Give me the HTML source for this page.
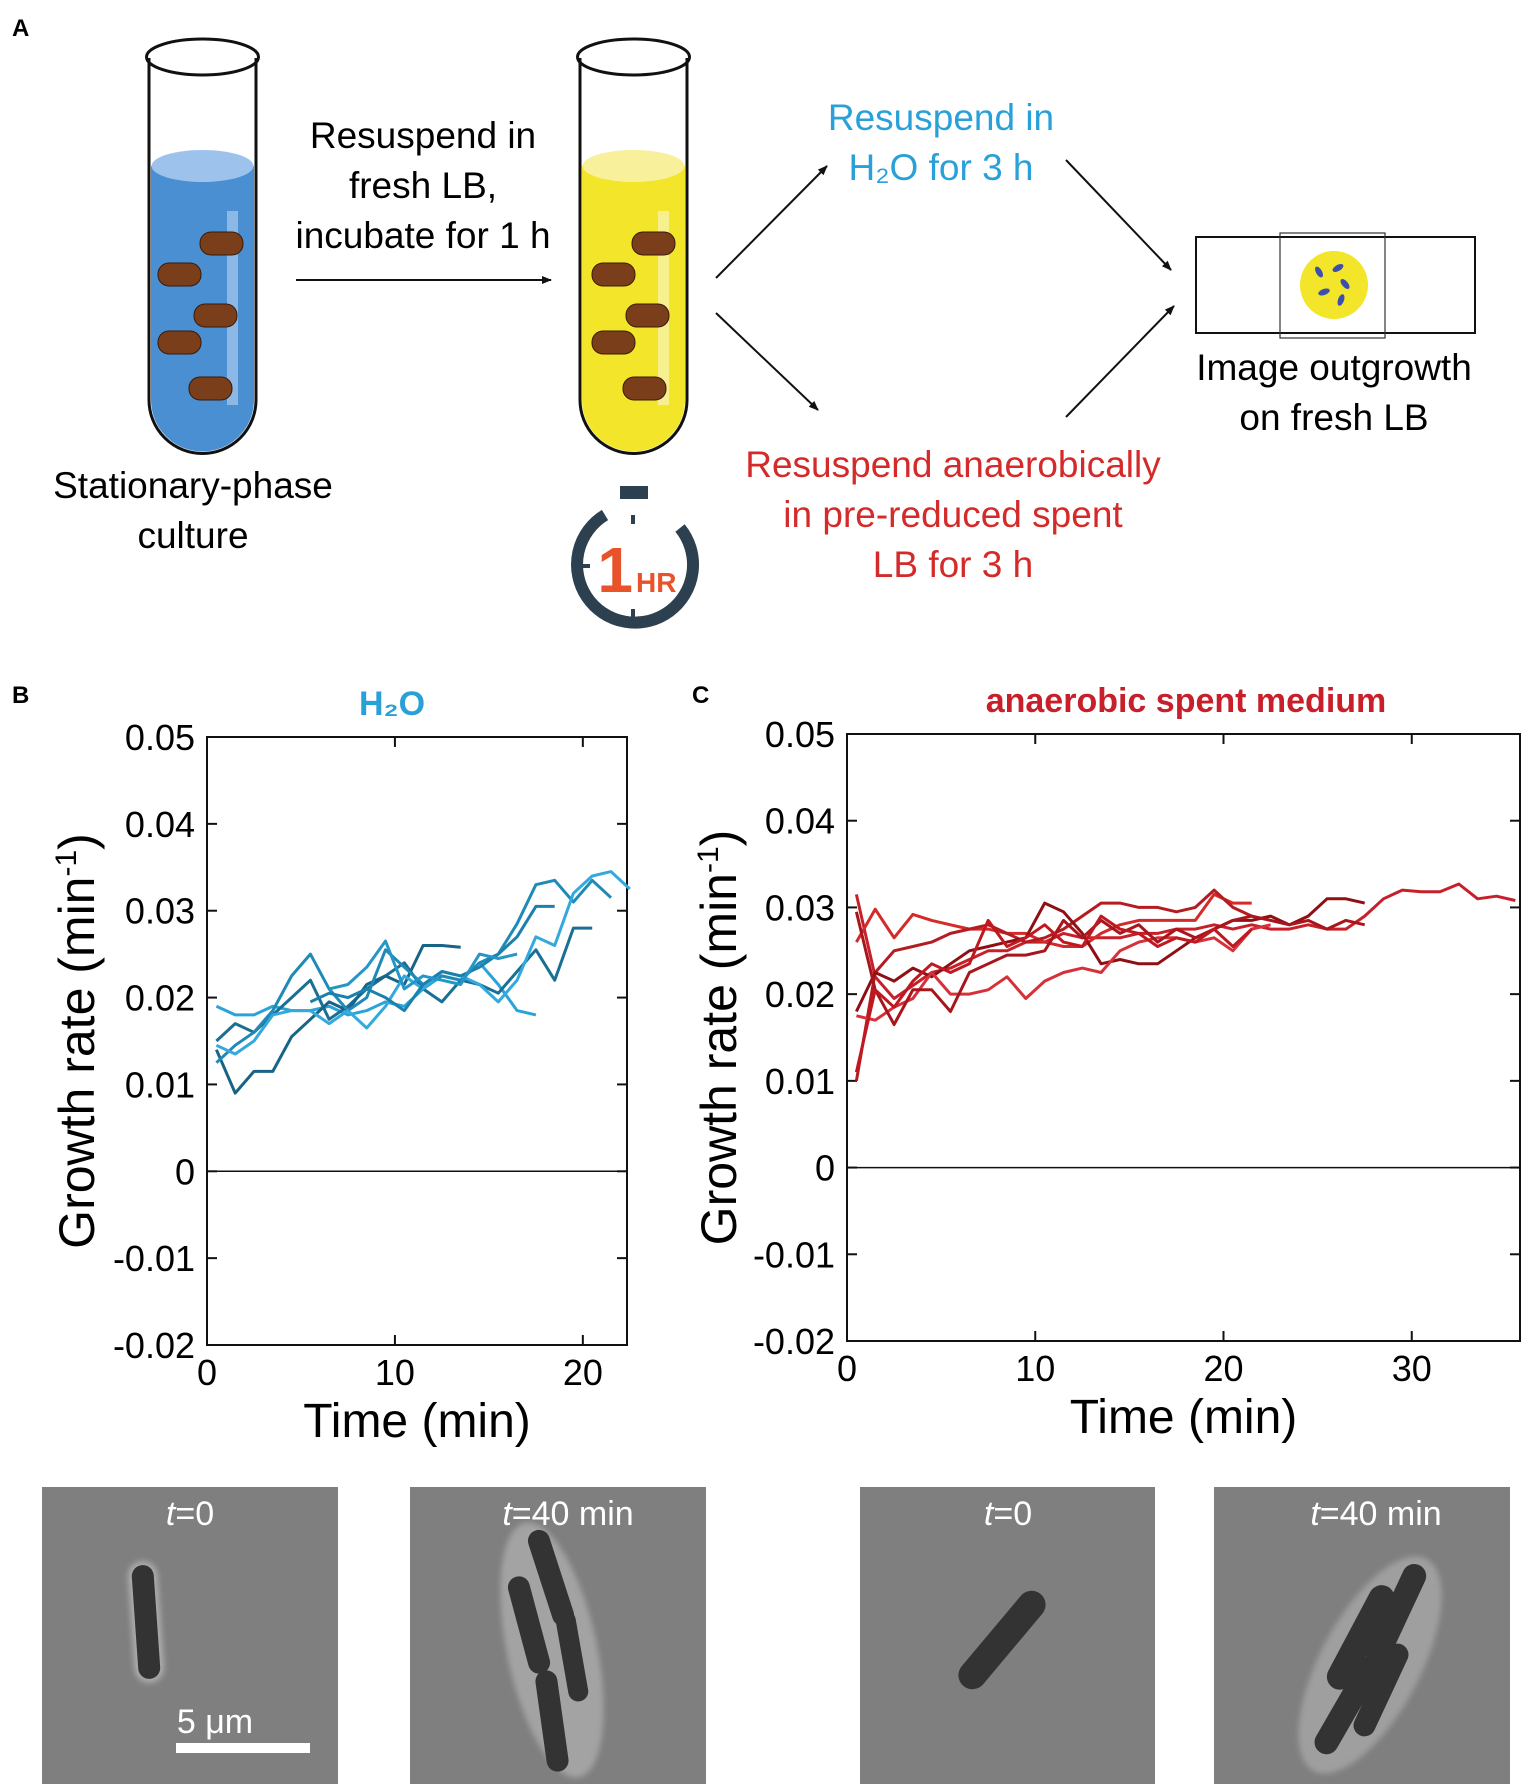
<!DOCTYPE html>
<html><head><meta charset="utf-8">
<style>
html,body{margin:0;padding:0;background:#fff;}
svg{display:block;font-family:"Liberation Sans",sans-serif;}
</style></head>
<body>
<svg id="fig" width="1535" height="1790" viewBox="0 0 1535 1790" xmlns="http://www.w3.org/2000/svg">
<defs>
<marker id="ah" markerWidth="10" markerHeight="10" refX="9" refY="5" orient="auto" markerUnits="userSpaceOnUse"><path d="M0,1 L10,5 L0,9 z" fill="#111"/></marker>
<filter id="blur" x="-50%" y="-50%" width="200%" height="200%"><feGaussianBlur stdDeviation="3"/></filter>
</defs>

<!-- Panel A -->
<text x="12" y="36" font-size="24" font-weight="bold">A</text>

<g>
  <path d="M149,58 L149,400 A53,53 0 0 0 256,400 L256,58" fill="#fff" stroke="#111" stroke-width="3"/>
  <path d="M151,166 L151,400 A51,51 0 0 0 254,400 L254,166 Z" fill="#4a8fd2"/>
  <ellipse cx="202.5" cy="166" rx="51" ry="16" fill="#9dc3ec"/>
  <rect x="227" y="211" width="11" height="194" fill="#a8c9ee" opacity="0.7"/>
  <rect x="200" y="232" width="43" height="23" rx="11" fill="#7a3f1a" stroke="#3a1a08" stroke-width="1"/>
  <rect x="158" y="263" width="43" height="23" rx="11" fill="#7a3f1a" stroke="#3a1a08" stroke-width="1"/>
  <rect x="194" y="304" width="43" height="23" rx="11" fill="#7a3f1a" stroke="#3a1a08" stroke-width="1"/>
  <rect x="158" y="331" width="43" height="23" rx="11" fill="#7a3f1a" stroke="#3a1a08" stroke-width="1"/>
  <rect x="189" y="377" width="43" height="23" rx="11" fill="#7a3f1a" stroke="#3a1a08" stroke-width="1"/>
  <ellipse cx="202.5" cy="57" rx="56" ry="18" fill="none" stroke="#111" stroke-width="3"/>
</g>
<text x="193" y="498" font-size="37" text-anchor="middle"><tspan x="193">Stationary-phase</tspan><tspan x="193" dy="50">culture</tspan></text>

<line x1="296" y1="280" x2="551" y2="280" stroke="#111" stroke-width="2" marker-end="url(#ah)"/>
<text x="423" y="148" font-size="37" text-anchor="middle"><tspan x="423">Resuspend in</tspan><tspan x="423" dy="50">fresh LB,</tspan><tspan x="423" dy="50">incubate for 1 h</tspan></text>

<g>
  <path d="M580,58 L580,400 A53,53 0 0 0 687,400 L687,58" fill="#fff" stroke="#111" stroke-width="3"/>
  <path d="M582,166 L582,400 A51,51 0 0 0 685,400 L685,166 Z" fill="#f2e52a"/>
  <ellipse cx="633.5" cy="166" rx="51" ry="16" fill="#f8f09a"/>
  <rect x="658" y="211" width="11" height="194" fill="#f8f3a8" opacity="0.8"/>
  <rect x="632" y="232" width="43" height="23" rx="11" fill="#7a3f1a" stroke="#3a1a08" stroke-width="1"/>
  <rect x="592" y="263" width="43" height="23" rx="11" fill="#7a3f1a" stroke="#3a1a08" stroke-width="1"/>
  <rect x="626" y="304" width="43" height="23" rx="11" fill="#7a3f1a" stroke="#3a1a08" stroke-width="1"/>
  <rect x="592" y="331" width="43" height="23" rx="11" fill="#7a3f1a" stroke="#3a1a08" stroke-width="1"/>
  <rect x="623" y="377" width="43" height="23" rx="11" fill="#7a3f1a" stroke="#3a1a08" stroke-width="1"/>
  <ellipse cx="633.5" cy="57" rx="56" ry="18" fill="none" stroke="#111" stroke-width="3"/>
</g>

<g>
  <rect x="620" y="486" width="28" height="13" fill="#2d4050"/>
  <path d="M680,528 A58,58 0 1 1 605,515" fill="none" stroke="#2d4050" stroke-width="12"/>
  <line x1="633" y1="515" x2="633" y2="524" stroke="#2d4050" stroke-width="4"/>
  <line x1="633" y1="609" x2="633" y2="617" stroke="#2d4050" stroke-width="4"/>
  <line x1="581" y1="566" x2="590" y2="566" stroke="#2d4050" stroke-width="4"/>
  <text x="633" y="592" font-size="64" font-weight="bold" fill="#e8532a" text-anchor="end" font-family="Liberation Sans Narrow, Liberation Sans, sans-serif">1</text>
  <text x="636" y="592" font-size="28" font-weight="bold" fill="#e8532a">HR</text>
</g>

<line x1="716" y1="278" x2="827" y2="166" stroke="#111" stroke-width="2" marker-end="url(#ah)"/>
<line x1="716" y1="313" x2="818" y2="410" stroke="#111" stroke-width="2" marker-end="url(#ah)"/>
<line x1="1066" y1="160" x2="1171" y2="270" stroke="#111" stroke-width="2" marker-end="url(#ah)"/>
<line x1="1066" y1="417" x2="1174" y2="306" stroke="#111" stroke-width="2" marker-end="url(#ah)"/>

<text x="941" y="130" font-size="37" fill="#2aa0d8" text-anchor="middle"><tspan x="941">Resuspend in</tspan><tspan x="941" dy="50">H₂O for 3 h</tspan></text>
<text x="953" y="477" font-size="37" fill="#d42a2a" text-anchor="middle"><tspan x="953">Resuspend anaerobically</tspan><tspan x="953" dy="50">in pre-reduced spent</tspan><tspan x="953" dy="50">LB for 3 h</tspan></text>

<g>
  <rect x="1196" y="237" width="279" height="96" fill="#fff" stroke="#111" stroke-width="2"/>
  <rect x="1280" y="233" width="105" height="105" fill="none" stroke="#333" stroke-width="1.2"/>
  <circle cx="1334" cy="285" r="34" fill="#f2e52a"/>
  <ellipse cx="1319" cy="272" rx="3" ry="6" fill="#3a4fb0" transform="rotate(-30 1319 272)"/>
  <ellipse cx="1338" cy="268" rx="3" ry="6" fill="#3a4fb0" transform="rotate(60 1338 268)"/>
  <ellipse cx="1345" cy="284" rx="3" ry="6" fill="#3a4fb0" transform="rotate(-40 1345 284)"/>
  <ellipse cx="1324" cy="292" rx="3" ry="6" fill="#3a4fb0" transform="rotate(70 1324 292)"/>
  <ellipse cx="1341" cy="300" rx="3" ry="6" fill="#3a4fb0" transform="rotate(20 1341 300)"/>
</g>
<text x="1334" y="380" font-size="37" text-anchor="middle"><tspan x="1334">Image outgrowth</tspan><tspan x="1334" dy="50">on fresh LB</tspan></text>

<!-- Panels B & C -->
<text x="12" y="703" font-size="24" font-weight="bold">B</text>
<text x="692" y="703" font-size="24" font-weight="bold">C</text>
<text x="392" y="715" font-size="34" font-weight="bold" fill="#2aa0d8" text-anchor="middle">H₂O</text>
<text x="1186" y="712" font-size="34" font-weight="bold" fill="#c8202a" text-anchor="middle">anaerobic spent medium</text>

<g id="chartB"></g>
<g id="chartC"></g>

<!-- micrographs -->
<g>
  <rect x="42" y="1487" width="296" height="297" fill="#7f7f7f"/>
  <rect x="131" y="1561" width="30" height="122" rx="15" fill="#d8d8d8" opacity="0.5" filter="url(#blur)" transform="rotate(-4 146 1622)"/>
  <rect x="135" y="1565" width="22" height="114" rx="11" fill="#333" transform="rotate(-4 146 1622)"/>
  <text x="190" y="1525" font-size="34" fill="#fff" text-anchor="middle"><tspan font-style="italic">t</tspan>=0</text>
  <text x="215" y="1733" font-size="34" fill="#fff" text-anchor="middle">5 μm</text>
  <rect x="176" y="1743" width="134" height="10" fill="#fff"/>
</g>
<g>
  <rect x="410" y="1487" width="296" height="297" fill="#7f7f7f"/>
  <ellipse cx="552" cy="1650" rx="45" ry="130" fill="#cfcfcf" opacity="0.45" filter="url(#blur)" transform="rotate(-12 552 1650)"/>
  <rect x="540" y="1528" width="22" height="100" rx="11" fill="#333" transform="rotate(-18 551 1578)"/>
  <rect x="518" y="1575" width="22" height="100" rx="11" fill="#333" transform="rotate(-15 529 1625)"/>
  <rect x="562" y="1610" width="20" height="92" rx="10" fill="#333" transform="rotate(-10 572 1656)"/>
  <rect x="541" y="1670" width="22" height="102" rx="11" fill="#333" transform="rotate(-8 552 1721)"/>
  <text x="568" y="1525" font-size="34" fill="#fff" text-anchor="middle"><tspan font-style="italic">t</tspan>=40 min</text>
</g>
<g>
  <rect x="860" y="1487" width="295" height="297" fill="#7f7f7f"/>
  <rect x="988" y="1580" width="28" height="120" rx="14" fill="#333" transform="rotate(40 1002 1640)"/>
  <text x="1008" y="1525" font-size="34" fill="#fff" text-anchor="middle"><tspan font-style="italic">t</tspan>=0</text>
</g>
<g>
  <rect x="1214" y="1487" width="296" height="297" fill="#7f7f7f"/>
  <ellipse cx="1370" cy="1665" rx="50" ry="120" fill="#cfcfcf" opacity="0.4" filter="url(#blur)" transform="rotate(28 1370 1665)"/>
  <rect x="1384" y="1560" width="24" height="110" rx="12" fill="#333" transform="rotate(25 1396 1615)"/>
  <rect x="1348" y="1580" width="26" height="115" rx="13" fill="#333" transform="rotate(28 1361 1637)"/>
  <rect x="1336" y="1650" width="24" height="110" rx="12" fill="#333" transform="rotate(30 1348 1705)"/>
  <rect x="1370" y="1640" width="22" height="100" rx="11" fill="#333" transform="rotate(25 1381 1690)"/>
  <text x="1376" y="1525" font-size="34" fill="#fff" text-anchor="middle"><tspan font-style="italic">t</tspan>=40 min</text>
</g>
</svg>

<script>
// ---- Chart data ----
const yTicks = [0.05, 0.04, 0.03, 0.02, 0.01, 0, -0.01, -0.02];
const yTickLabels = ["0.05","0.04","0.03","0.02","0.01","0","-0.01","-0.02"];
const xTicksB = [0, 10, 20];
const xTicksC = [0, 10, 20, 30];
const seriesColorsB = ["#2aa3d8", "#1a6f95", "#176487", "#1f8ab8", "#33a9dd", "#1c80ad", "#2596c6"];
const seriesColorsC = ["#c8202a", "#d42a2a", "#b51c22", "#8e1015", "#d63038", "#a8161d", "#c01820"];
// H2O series: start time (min) + values at 1-min steps
const startB = [0.5, 0.5, 0.5, 0.5, 0.5, 5.5, 6.5];
const b1 = [0.019,0.018,0.018,0.019,0.0185,0.0185,0.019,0.018,0.0185,0.0195,0.019,0.021,0.0225,0.022,0.024,0.0215,0.0185,0.018];
const b2 = [0.015,0.017,0.016,0.018,0.020,0.022,0.0175,0.019,0.021,0.0225,0.024,0.021,0.0195,0.022,0.0215,0.0205,0.023,0.0255,0.022,0.028,0.028];
const b3 = [0.014,0.009,0.0115,0.0115,0.0155,0.0175,0.0195,0.0185,0.0215,0.0225,0.0215,0.026,0.026,0.0258];
const b4 = [0.0125,0.0145,0.016,0.0185,0.0225,0.025,0.021,0.0185,0.020,0.0255,0.0235,0.0215,0.0225,0.022,0.024,0.025,0.0285,0.033,0.0335,0.031,0.0335,0.0315];
const b5 = [0.0145,0.0135,0.015,0.018,0.0185,0.0185,0.017,0.0185,0.0165,0.019,0.0225,0.021,0.023,0.0225,0.0215,0.0195,0.022,0.027,0.026,0.032,0.034,0.0345,0.0325];
const b6 = [0.0195,0.0205,0.020,0.021,0.020,0.0185,0.0215,0.023,0.0225,0.0235,0.025,0.027,0.0305,0.0305];
const b7 = [0.021,0.0215,0.0235,0.0265,0.021,0.0225,0.022,0.0215,0.025,0.0245,0.025];
// Anaerobic spent medium series
const startC = [0.5, 0.5, 0.5, 0.5, 0.5, 0.5, 0.5];
const c1 = [0.0315,0.022,0.0195,0.021,0.0225,0.023,0.024,0.025,0.025,0.026,0.026,0.027,0.0265,0.0265,0.0265,0.027,0.027,0.0275,0.0275,0.028,0.0275,0.028,0.0275,0.0275,0.028,0.0275,0.0275,0.029,0.031,0.032,0.0318,0.0318,0.0327,0.031,0.0313,0.0308];
const c2 = [0.026,0.0298,0.0265,0.0292,0.0285,0.028,0.0275,0.0275,0.027,0.027,0.026,0.0255,0.0255,0.027,0.028,0.0285,0.0285,0.0285,0.0285,0.0315,0.0305,0.0305];
const c3 = [0.010,0.0225,0.025,0.0255,0.026,0.027,0.0275,0.028,0.027,0.026,0.0265,0.0275,0.029,0.0305,0.0305,0.030,0.030,0.0295,0.030,0.032,0.030,0.029];
const c4 = [0.018,0.0225,0.0215,0.023,0.022,0.0235,0.025,0.0255,0.026,0.0265,0.0305,0.0295,0.027,0.0235,0.024,0.0235,0.0235,0.025,0.0265,0.0275,0.0285,0.0285,0.029,0.028,0.029,0.031,0.031,0.0305];
const c5 = [0.0175,0.017,0.0185,0.0195,0.0225,0.020,0.020,0.0205,0.022,0.0195,0.0215,0.0225,0.023,0.0225,0.025,0.026,0.0265,0.0265,0.026,0.0265,0.025,0.0275,0.028];
const c6 = [0.0295,0.0205,0.0165,0.0205,0.0205,0.018,0.0225,0.0235,0.0245,0.0245,0.025,0.0285,0.0265,0.0285,0.027,0.028,0.026,0.0275,0.0265,0.0275,0.0285,0.029,0.0285,0.028,0.0285,0.0275,0.0285,0.028];
const c7 = [0.011,0.0205,0.0185,0.0215,0.0235,0.0225,0.0235,0.0285,0.0255,0.0265,0.028,0.026,0.0255,0.029,0.0275,0.027,0.0255,0.0265,0.026,0.0275,0.0255,0.0275];
const seriesB = [b1,b2,b3,b4,b5,b6,b7];
const seriesC = [c1,c2,c3,c4,c5,c6,c7];

const NS = "http://www.w3.org/2000/svg";
function mk(parent, tag, attrs, text) {
  const el = document.createElementNS(NS, tag);
  for (const k in attrs) el.setAttribute(k, attrs[k]);
  if (text !== undefined) el.textContent = text;
  parent.appendChild(el);
  return el;
}

function drawChart(g, cfg, xTicks, series, starts, colors, key) {
  const xs = t => cfg.left + (t - cfg.xmin) / (cfg.xmax - cfg.xmin) * (cfg.right - cfg.left);
  const ys = v => cfg.bottom - (v - cfg.ymin) / (cfg.ymax - cfg.ymin) * (cfg.bottom - cfg.top);
  const frame = mk(g, "rect", {x: cfg.left, y: cfg.top, width: cfg.right - cfg.left, height: cfg.bottom - cfg.top, fill: "none", stroke: "#111", "stroke-width": 2});
  
  
  const z = mk(g, "line", {x1: cfg.left, x2: cfg.right, y1: ys(0), y2: ys(0), stroke: "#111", "stroke-width": 1.5});
  
  
  yTicks.forEach((v, i) => {
    const y = ys(v);
    mk(g, "line", {x1: cfg.left, x2: cfg.left + 10, y1: y, y2: y, stroke: "#111", "stroke-width": 2});
    mk(g, "line", {x1: cfg.right - 10, x2: cfg.right, y1: y, y2: y, stroke: "#111", "stroke-width": 2});
    const t = mk(g, "text", {x: cfg.left - 12, y: y + 13, "font-size": 36, "text-anchor": "end"}, yTickLabels[i]);
    
    
  });
  xTicks.forEach(v => {
    const x = xs(v);
    mk(g, "line", {x1: x, x2: x, y1: cfg.bottom, y2: cfg.bottom - 10, stroke: "#111", "stroke-width": 2});
    mk(g, "line", {x1: x, x2: x, y1: cfg.top, y2: cfg.top + 10, stroke: "#111", "stroke-width": 2});
    const t = mk(g, "text", {x: x, y: cfg.bottom + 40, "font-size": 36, "text-anchor": "middle"}, String(v));
    
    
  });
  series.forEach((vals, si) => {
    const pts = vals.map((v, i) => xs(starts[si] + i).toFixed(1) + "," + ys(v).toFixed(1)).join(" ");
    const pl = mk(g, "polyline", {points: pts, fill: "none", stroke: colors[si], "stroke-width": 3, "stroke-linejoin": "round"});
    
    
  });
  const xt = mk(g, "text", {x: (cfg.left + cfg.right) / 2, y: cfg.bottom + 92, "font-size": 48, "text-anchor": "middle"}, "Time (min)");
  
  
  const yt = mk(g, "text", {x: 0, y: 0, "font-size": 50, "text-anchor": "middle", transform: "translate(" + cfg.ytx + "," + ((cfg.top + cfg.bottom) / 2) + ") rotate(-90)"});
  
  
  mk(yt, "tspan", {}, "Growth rate (min");
  mk(yt, "tspan", {dy: -18, "font-size": 30}, "-1");
  mk(yt, "tspan", {dy: 18}, ")");
}

drawChart(document.getElementById("chartB"),
  {left: 207, right: 627, top: 737, bottom: 1345, xmin: 0, xmax: 22.35, ymin: -0.02, ymax: 0.05, ytx: 94},
  xTicksB, seriesB, startB, seriesColorsB, "chart-b");
drawChart(document.getElementById("chartC"),
  {left: 847, right: 1520, top: 734, bottom: 1341, xmin: 0, xmax: 35.75, ymin: -0.02, ymax: 0.05, ytx: 736},
  xTicksC, seriesC, startC, seriesColorsC, "chart-c");
</script>
</body></html>
